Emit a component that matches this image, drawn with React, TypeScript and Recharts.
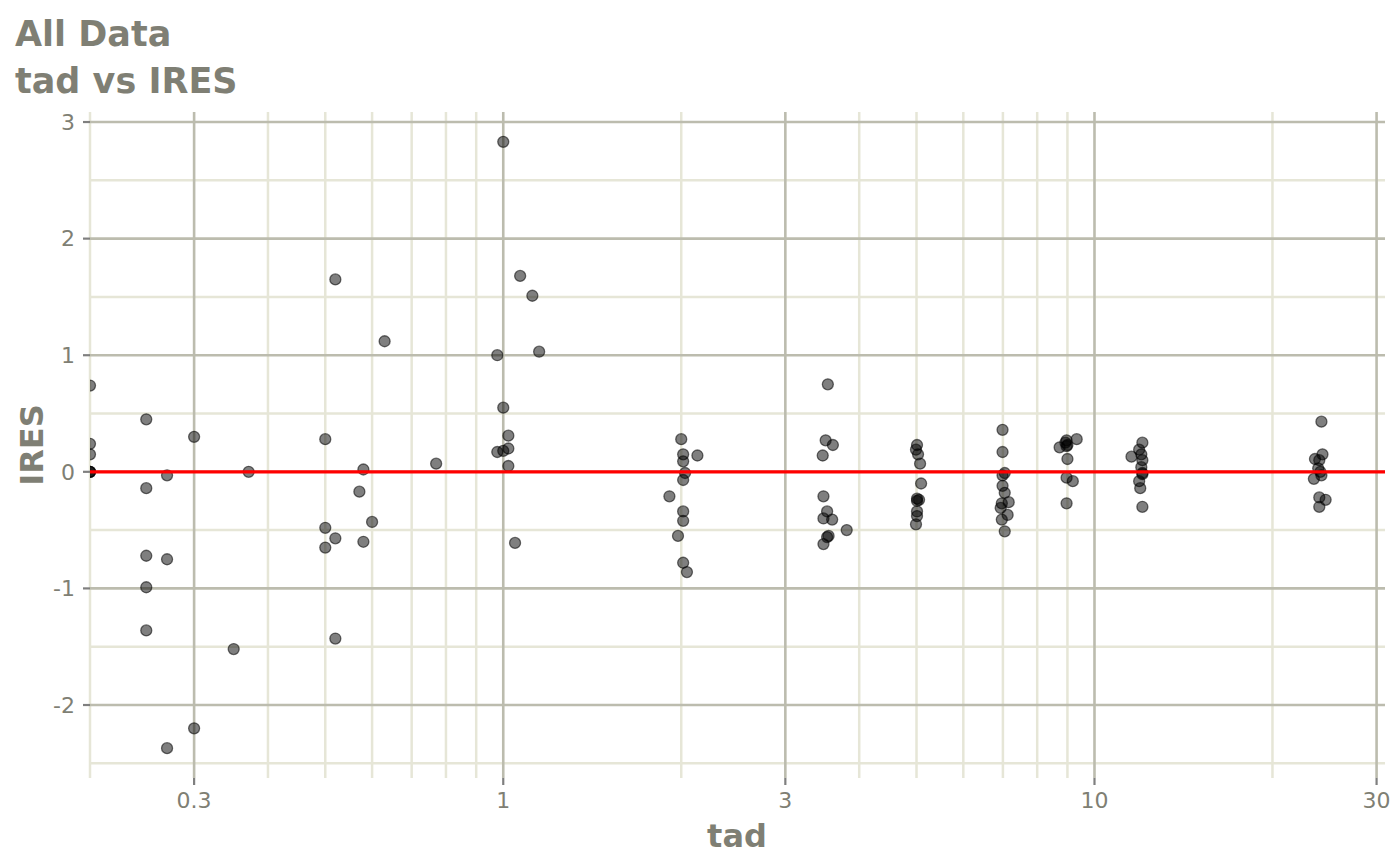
import { ComposedChart, Scatter, XAxis, YAxis, CartesianGrid, ReferenceLine } from "recharts";

// time after dose (tad) and individual residuals (IRES)
const tad = [
  0.2, 0.2, 0.2, 0.2, 0.2, 0.2,
  0.249, 0.249, 0.249, 0.249, 0.249,
  0.27, 0.27, 0.27,
  0.3, 0.3, 0.35, 0.371,
  0.5, 0.5, 0.5, 0.52, 0.52, 0.52, 0.571, 0.58, 0.58, 0.6, 0.63, 0.77,
  0.977, 0.977, 1.0, 1.0, 1.0, 1.02, 1.02, 1.02, 1.047, 1.068, 1.12, 1.15,
  2.0, 2.015, 2.015, 2.13, 2.03, 2.015, 1.91, 2.015, 2.015, 1.975, 2.015, 2.045,
  3.54, 3.51, 3.61, 3.47, 3.48, 3.53, 3.48, 3.6, 3.81, 3.55, 3.53, 3.48,
  5.01, 4.99, 5.03, 5.07, 5.09, 5.01, 5.05, 5.01, 5.01, 5.01, 4.99,
  6.99, 6.99, 7.05, 6.99, 6.99, 7.05, 7.16, 6.97, 6.94, 7.13, 6.97, 7.05,
  8.97, 8.93, 9.0, 8.97, 8.73, 9.33, 9.0, 8.97, 9.19, 8.97,
  12.05, 11.9, 11.55, 12.0, 12.05, 12.0, 12.05, 12.05, 11.9, 11.95, 12.05,
  24.2, 24.3, 23.6, 24.0, 23.9, 24.1, 24.2, 23.5, 24.0, 24.6, 24.0,
];

const ires = [
  0.74, 0.24, 0.15, 0, 0, 0,
  0.45, -0.14, -0.72, -0.99, -1.36,
  -0.03, -0.75, -2.37,
  0.3, -2.2, -1.52, 0.0,
  0.28, -0.48, -0.65, 1.65, -0.57, -1.43, -0.17, 0.02, -0.6, -0.43, 1.12, 0.07,
  1.0, 0.17, 2.83, 0.55, 0.18, 0.31, 0.2, 0.05, -0.61, 1.68, 1.51, 1.03,
  0.28, 0.15, 0.09, 0.14, -0.01, -0.07, -0.21, -0.34, -0.42, -0.55, -0.78, -0.86,
  0.75, 0.27, 0.23, 0.14, -0.21, -0.34, -0.4, -0.41, -0.5, -0.55, -0.56, -0.62,
  0.23, 0.19, 0.15, 0.07, -0.1, -0.23, -0.24, -0.25, -0.34, -0.38, -0.45,
  0.36, 0.17, -0.01, -0.03, -0.12, -0.18, -0.26, -0.27, -0.31, -0.37, -0.41, -0.51,
  0.27, 0.25, 0.23, 0.22, 0.21, 0.28, 0.11, -0.05, -0.08, -0.27,
  0.25, 0.19, 0.13, 0.15, 0.1, 0.04, -0.01, -0.02, -0.08, -0.14, -0.3,
  0.43, 0.15, 0.11, 0.1, 0.03, 0.0, -0.03, -0.06, -0.22, -0.24, -0.3,
];

const xTicks = [0.3, 1, 3, 10, 30];
const xMinor = [0.2, 0.4, 0.5, 0.6, 0.7, 0.8, 0.9, 2, 4, 5, 6, 7, 8, 9, 20];
const yTicks = [-2, -1, 0, 1, 2, 3];
const yMinor = [-2.5, -1.5, -0.5, 0.5, 1.5, 2.5];

const points = tad.map((t, i) => ({ tad: t, ires: ires[i] }));

const textColor = "#7f7f74";
const font = "DejaVu Sans";

const Dot = (props: any) => (
  <circle
    cx={props.cx}
    cy={props.cy}
    r={5.5}
    fill="rgba(0,0,0,0.5)"
    stroke="rgba(0,0,0,0.55)"
    strokeWidth={1.3}
  />
);

export default function App() {
  return (
    <div style={{ position: "absolute", left: 0, top: 0, width: 1400, height: 866, background: "#fff" }}>
      <ComposedChart
        width={1400}
        height={866}
        data={points}
        margin={{ top: 112, right: 15, left: 0, bottom: 0 }}
      >
        <CartesianGrid
          horizontalValues={yMinor}
          verticalValues={xMinor}
          stroke="#e6e6d7"
          strokeWidth={2.5}
        />
        <CartesianGrid
          horizontalValues={yTicks}
          verticalValues={xTicks}
          stroke="#bcbcae"
          strokeWidth={2.6}
        />
        <XAxis
          dataKey="tad"
          type="number"
          scale="log"
          domain={[0.2, 31]}
          ticks={xTicks}
          allowDataOverflow
          height={88}
          axisLine={false}
          tickSize={7}
          tickMargin={7}
          tickLine={{ stroke: "#7f7f7f", strokeWidth: 2.2 }}
          tick={{ fill: textColor, fontSize: 22, fontFamily: font }}
        />
        <YAxis
          dataKey="ires"
          type="number"
          domain={[-2.626, 3.086]}
          ticks={yTicks}
          allowDataOverflow
          width={90}
          axisLine={false}
          tickSize={7}
          tickMargin={8}
          tickLine={{ stroke: "#7f7f7f", strokeWidth: 2.2 }}
          tick={{ fill: textColor, fontSize: 22, fontFamily: font }}
        />
        <Scatter data={points} dataKey="ires" shape={Dot} isAnimationActive={false} />
        <ReferenceLine y={0} stroke="#ff0000" strokeWidth={3.2} zIndex={700} />
      </ComposedChart>
      <svg
        width={1400}
        height={866}
        style={{ position: "absolute", left: 0, top: 0, pointerEvents: "none" }}
      >
        <g fontFamily={font} fontWeight="bold" fill={textColor}>
          <text x={15} y={46} fontSize={35}>All Data</text>
          <text x={15} y={93} fontSize={35}>tad vs IRES</text>
          <text x={737} y={847} fontSize={32} textAnchor="middle">tad</text>
          <text x={43} y={445} fontSize={32} textAnchor="middle" transform="rotate(-90 43 445)">IRES</text>
        </g>
      </svg>
    </div>
  );
}
